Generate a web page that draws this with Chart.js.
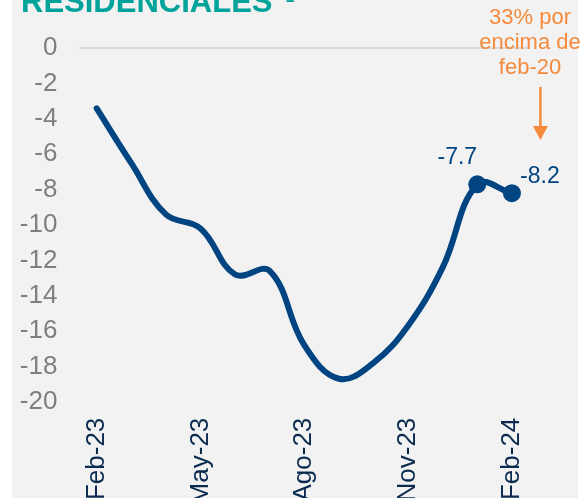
<!DOCTYPE html>
<html>
<head>
<meta charset="utf-8">
<script src="https://cdn.jsdelivr.net/npm/chart.js@4"></script>
<style>
  html, body { margin: 0; padding: 0; background: #ffffff; width: 584px; height: 498px; overflow: hidden; }
  #panel { position: absolute; left: 12px; top: 0; width: 566px; height: 530px; background: #f2f2f2; }
  #titulo { position: absolute; left: 21px; top: -14px; font: bold 31px "Liberation Sans", Arial, sans-serif; line-height: 31px; color: #00a39a; white-space: nowrap; }
  #titulo sup { font-size: 16px; line-height: 0; vertical-align: baseline; position: relative; top: -10px; margin-left: 13px; }
  #nota { position: absolute; left: 470px; top: 4px; width: 120px; text-align: center; font: 22px "Liberation Sans", Arial, sans-serif; line-height: 25px; color: #f58a3c; }
</style>
</head>
<body>
<div id="panel"><canvas id="grafico" width="566" height="530"></canvas></div>
<div id="titulo">RESIDENCIALES<sup>1</sup></div>
<div id="nota">33% por<br>encima de<br>feb-20</div>
<script>
// meses (categorias) y valores de la serie
const meses = ["Feb-23", "Mar-23", "Abr-23", "May-23", "Jun-23", "Jul-23", "Ago-23",
               "Sep-23", "Oct-23", "Nov-23", "Dic-23", "Ene-24", "Feb-24"];
const valores = [-3.4, -6.5, -9.4, -10.2, -12.8, -12.6, -16.8, -18.7, -17.8, -15.7, -12.4, -7.7, -8.2];
const etiquetasX = ["Feb-23", "May-23", "Ago-23", "Nov-23", "Feb-24"];
const ticksY = [0, -2, -4, -6, -8, -10, -12, -14, -16, -18, -20];
const puntosMarcados = [11, 12];

const azul = "#004481";
const naranja = "#f58a3c";

// etiquetas de datos y flecha de la nota
const extras = {
    id: "extras",
    afterDatasetsDraw(chart) {
        const ctx = chart.ctx;
        const x = chart.scales.x;
        const y = chart.scales.y;
        ctx.save();
        ctx.font = "23px 'Liberation Sans', Arial, sans-serif";
        ctx.fillStyle = azul;
        ctx.textAlign = "center";
        ctx.textBaseline = "middle";
        const desp = { 11: [-20, -27], 12: [28, -17] };
        puntosMarcados.forEach(function (i) {
            const px = x.getPixelForValue(i);
            const py = y.getPixelForValue(valores[i]);
            ctx.fillText(valores[i].toFixed(1), px + desp[i][0], py + desp[i][1]);
        });

        // flecha naranja
        const ax = x.getPixelForValue(12) + 28.5;
        ctx.strokeStyle = naranja;
        ctx.fillStyle = naranja;
        ctx.lineWidth = 2.5;
        ctx.beginPath();
        ctx.moveTo(ax, 87);
        ctx.lineTo(ax, 128);
        ctx.stroke();
        ctx.beginPath();
        ctx.moveTo(ax - 7.5, 126);
        ctx.lineTo(ax + 7.5, 126);
        ctx.lineTo(ax, 140);
        ctx.closePath();
        ctx.fill();
        ctx.restore();
    }
};

const ctx = document.getElementById("grafico");

const grafico = new Chart(ctx, {
    type: "line",
    data: {
        labels: meses,
        datasets: [{
            data: valores,
            borderColor: azul,
            backgroundColor: azul,
            borderWidth: 6,
            tension: 0.4,
            fill: false,
            pointRadius: valores.map((v, i) => puntosMarcados.includes(i) ? 9 : 0),
            pointBorderWidth: 0,
            pointBackgroundColor: azul,
            borderCapStyle: "round",
            borderJoinStyle: "round"
        }]
    },
    plugins: [extras],
    options: {
        responsive: false,
        animation: false,
        layout: { padding: { top: 48.3, right: 48.8, bottom: 0, left: 0 } },
        plugins: {
            legend: { display: false },
            tooltip: { enabled: false }
        },
        scales: {
            x: {
                offset: true,
                grid: { display: false, drawTicks: false },
                border: { display: false },
                ticks: {
                    autoSkip: false,
                    minRotation: 90,
                    maxRotation: 90,
                    padding: 16,
                    color: "#0a2a4f",
                    font: { family: "'Liberation Sans', Arial, sans-serif", size: 26 },
                    callback: function (v, i) {
                        const l = meses[i];
                        return etiquetasX.includes(l) ? l : null;
                    }
                },
                afterFit: function (scale) { scale.height = 128.3; }
            },
            y: {
                min: -20,
                max: 0,
                afterBuildTicks: function (scale) {
                    scale.ticks = ticksY.map(v => ({ value: v }));
                },
                grid: {
                    drawTicks: false,
                    lineWidth: 2,
                    color: c => (c.tick && c.tick.value === 0) ? "#d9d9d9" : "rgba(0,0,0,0)"
                },
                border: { display: false },
                ticks: {
                    padding: 22,
                    color: "#7f7f7f",
                    font: { family: "'Liberation Sans', Arial, sans-serif", size: 26 }
                },
                afterFit: function (scale) { scale.width = 67.4; }
            }
        }
    }
});
</script>
</body>
</html>
